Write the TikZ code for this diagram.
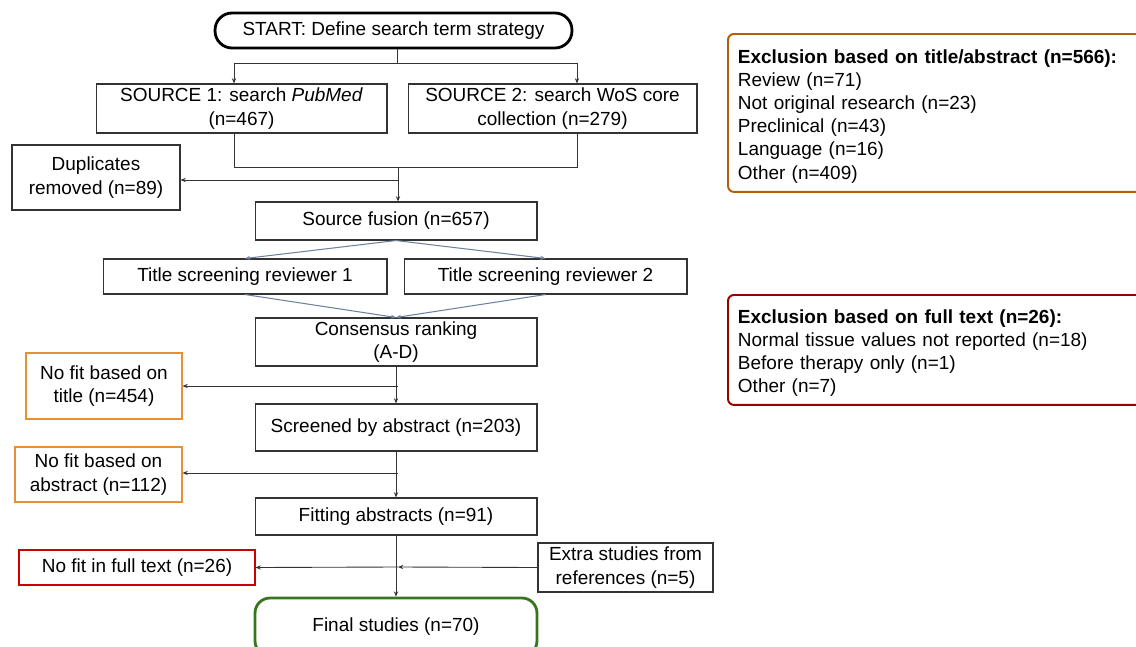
\documentclass[tikz,border=0pt]{standalone}
\usepackage{fontspec}
\setmainfont{Liberation Sans}
\usetikzlibrary{arrows.meta}
\definecolor{fc_orange}{HTML}{E69138}
\definecolor{fc_brown}{HTML}{B45F06}
\definecolor{fc_darkred}{HTML}{990000}
\definecolor{fc_red}{HTML}{CC0000}
\definecolor{fc_green}{HTML}{38761D}
\definecolor{fc_steel}{HTML}{6E82A0}
\tikzset{
  fc_box/.style = {draw=black!80, line width=0.6pt, align=center, inner sep=0pt, text centered, font=\fontsize{10.8}{13.2}\selectfont},
  fc_orange/.style = {fc_box, draw=fc_orange},
  fc_red/.style = {fc_box, draw=fc_red},
  fc_start/.style = {fc_box, draw=black, line width=1.6pt, rounded corners=0.34cm},
  fc_final/.style = {fc_box, draw=fc_green, line width=1.6pt, rounded corners=0.3cm},
  fc_list/.style = {draw, line width=1.1pt, rounded corners=0.12cm, align=left, inner xsep=0.2cm, inner ysep=0pt, font=\fontsize{10.8}{13.2}\selectfont, anchor=north west},
  fc_arrow/.style = {draw=black!80, line width=0.5pt, -{Stealth[length=3pt,width=2.4pt]}},
  fc_line/.style = {draw=black!80, line width=0.5pt},
  fc_diag/.style = {draw=fc_steel, line width=0.6pt, -{Stealth[length=3pt,width=2.4pt]}}
}
\begin{document}
\begin{tikzpicture}[x=0.02cm, y=-0.02cm]
	\useasboundingbox (0,0) rectangle (1136,646);
	\node [fc_start, minimum width=7.14cm, minimum height=0.7cm] (start) at (393.5,30.5) {START: Define search term strategy};
	\node [fc_box, minimum width=5.82cm, minimum height=0.98cm] (src1) at (241.5,108.5) {SOURCE 1: search \textit{PubMed}\\(n=467)};
	\node [fc_box, minimum width=5.78cm, minimum height=0.98cm] (src2) at (552.5,108.5) {SOURCE 2: search WoS core\\collection (n=279)};
	\node [fc_box, minimum width=3.36cm, minimum height=1.3cm] (dup) at (96,177.5) {Duplicates\\removed (n=89)};
	\node [fc_box, minimum width=5.64cm, minimum height=0.76cm] (fusion) at (396,221) {Source fusion (n=657)};
	\node [fc_box, minimum width=5.68cm, minimum height=0.7cm] (ts1) at (245,276.5) {Title screening reviewer 1};
	\node [fc_box, minimum width=5.66cm, minimum height=0.7cm] (ts2) at (545.5,276.5) {Title screening reviewer 2};
	\node [fc_box, minimum width=5.64cm, minimum height=0.96cm] (cons) at (396,342) {Consensus ranking\\(A-D)};
	\node [fc_orange, minimum width=3.12cm, minimum height=1.32cm] (nftitle) at (104,386) {No fit based on\\title (n=454)};
	\node [fc_box, minimum width=5.64cm, minimum height=0.94cm] (screened) at (396,427.5) {Screened by abstract (n=203)};
	\node [fc_orange, minimum width=3.34cm, minimum height=1.1cm] (nfabs) at (98.5,474.5) {No fit based on\\abstract (n=112)};
	\node [fc_box, minimum width=5.64cm, minimum height=0.74cm] (fitting) at (396,516.5) {Fitting abstracts (n=91)};
	\node [fc_red, minimum width=4.72cm, minimum height=0.7cm] (nffull) at (137,567.5) {No fit in full text (n=26)};
	\node [fc_box, minimum width=3.5cm, minimum height=0.98cm] (extra) at (625.5,567.5) {Extra studies from\\references (n=5)};
	\node [fc_final, minimum width=5.64cm, minimum height=1.16cm] (final) at (396,627) {Final studies (n=70)};
	\node [fc_list, draw=fc_brown, minimum height=3.16cm, text width=8.06cm] (excl1) at (727,33) {\rule{0pt}{11.5pt}\textbf{Exclusion based on title/abstract (n=566):}\\Review (n=71)\\Not original research (n=23)\\Preclinical (n=43)\\Language (n=16)\\Other (n=409)};
	\node [fc_list, draw=fc_darkred, minimum height=2.2cm, text width=8.06cm] (excl2) at (727,294) {\rule{0pt}{11.5pt}\textbf{Exclusion based on full text (n=26):}\\Normal tissue values not reported (n=18)\\Before therapy only (n=1)\\Other (n=7)};
	\coordinate (j1) at (397,63);
	\coordinate (j1l) at (234,63);
	\coordinate (j1r) at (577,63);
	\coordinate (j2) at (398,167);
	\coordinate (j2l) at (234,167);
	\coordinate (j2r) at (577,167);
	\coordinate (j3) at (398,180);
	\coordinate (j4) at (398,386);
	\coordinate (j5) at (398,473);
	\coordinate (j6) at (398,567);
	\draw [fc_line] (start.south -| j1) -- (j1);
	\draw [fc_line] (j1l) -- (j1r);
	\draw [fc_arrow] (j1l) -- (j1l |- src1.north);
	\draw [fc_arrow] (j1r) -- (j1r |- src2.north);
	\draw [fc_line] (src1.south -| j2l) -- (j2l) -- (j2r) -- (src2.south -| j2r);
	\draw [fc_arrow] (j2) -- (j2 |- fusion.north);
	\draw [fc_arrow] (j3) -- (j3 -| dup.east);
	\draw [fc_diag] (fusion.south) -- (ts1.north);
	\draw [fc_diag] (fusion.south) -- (ts2.north);
	\draw [fc_diag] (ts1.south) -- (cons.north);
	\draw [fc_diag] (ts2.south) -- (cons.north);
	\draw [fc_arrow] (cons.south) -- (screened.north);
	\draw [fc_arrow] (j4) -- (j4 -| nftitle.east);
	\draw [fc_arrow] (screened.south) -- (fitting.north);
	\draw [fc_arrow] (j5) -- (j5 -| nfabs.east);
	\draw [fc_arrow] (fitting.south) -- (final.north);
	\draw [fc_arrow] (extra.west) -- (j6);
	\draw [fc_arrow] (j6) -- (nffull.east);
\end{tikzpicture}
\end{document}
